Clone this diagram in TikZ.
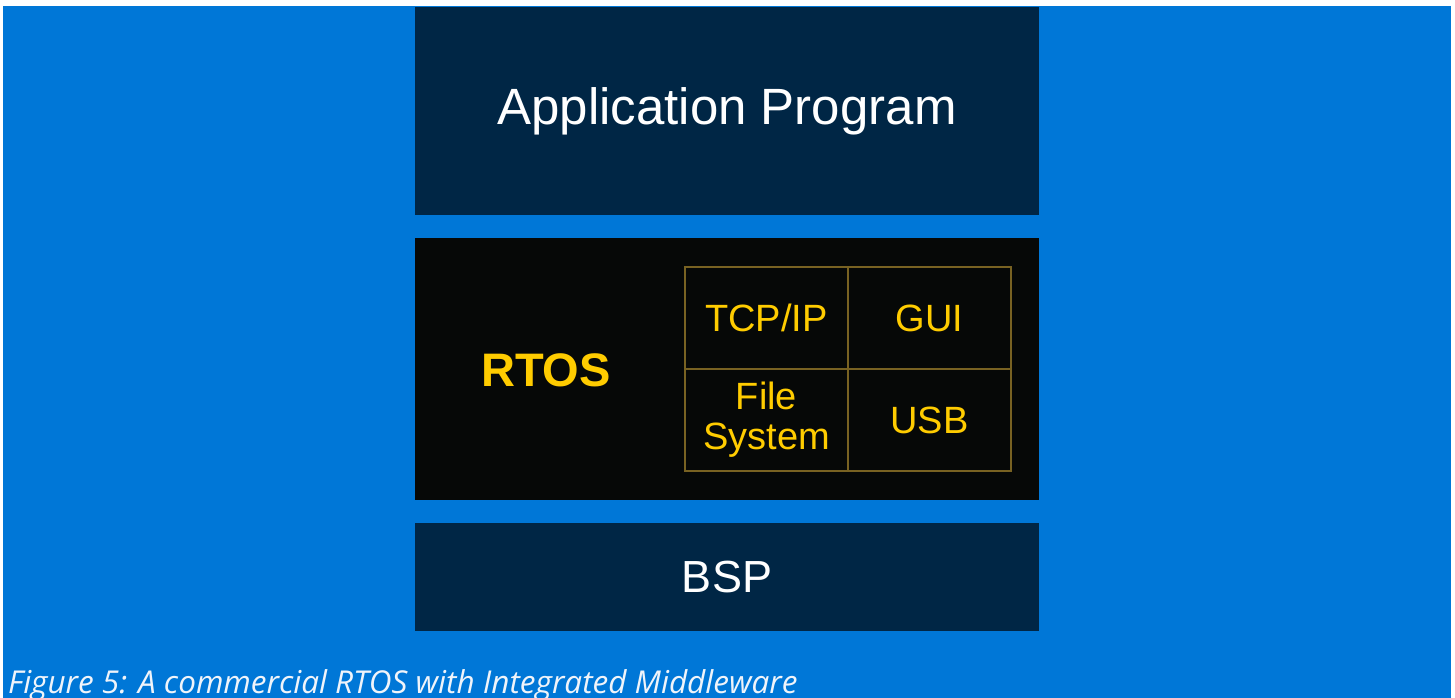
\documentclass[tikz,border=0pt]{standalone}
\usepackage{fontspec}
\setmainfont{Liberation Sans}
\newfontfamily\capfont{Open Sans}
\definecolor{bgblue}{RGB}{0,119,215}
\definecolor{navy}{RGB}{0,38,69}
\definecolor{nearblack}{RGB}{6,8,7}
\definecolor{goldtxt}{RGB}{255,204,0}
\definecolor{goldline}{RGB}{120,98,34}
\definecolor{captxt}{RGB}{240,244,250}
\begin{document}
\begin{tikzpicture}[x=1pt,y=1pt,
  layer/.style={fill=navy,draw=none,inner sep=0pt,outer sep=0pt,minimum width=624pt,text=white},
  cell/.style={draw=goldline,line width=1.2pt,fill=nearblack,inner sep=0pt,outer sep=0pt,
    minimum width=163pt,minimum height=102pt,text=goldtxt,align=center,
    font=\fontsize{38}{40}\selectfont}]
\useasboundingbox (0,0) rectangle (1455,698);
\fill[white] (0,0) rectangle (1455,698);
\fill[bgblue] (3,0) rectangle (1451,692);
% layers
\node[layer,minimum height=208pt,font=\fontsize{51}{56}\selectfont] (app) at (727,587) {Application Program};
\node[layer,fill=nearblack,minimum height=262pt] (rtos) at (727,329) {};
\node[layer,minimum height=108pt,font=\fontsize{45}{50}\selectfont] (bsp) at (727,121) {BSP};
\node[text=goldtxt,font=\bfseries\fontsize{47}{52}\selectfont] (rtoslbl) at (546,328) {RTOS};
% middleware grid
\node[cell] (tcp) at (766.5,380) {TCP/IP};
\node[cell] (gui) at (929.5,380) {GUI};
\node[cell] (fs) at (766.5,278) {File\\System};
\node[cell] (usb) at (929.5,278) {USB};
% caption
\node[anchor=base west,inner sep=0pt,text=captxt,font=\capfont\itshape\fontsize{31.5}{34}\selectfont] (cap) at (8,5) {Figure 5: A commercial RTOS with Integrated Middleware};
\end{tikzpicture}
\end{document}
